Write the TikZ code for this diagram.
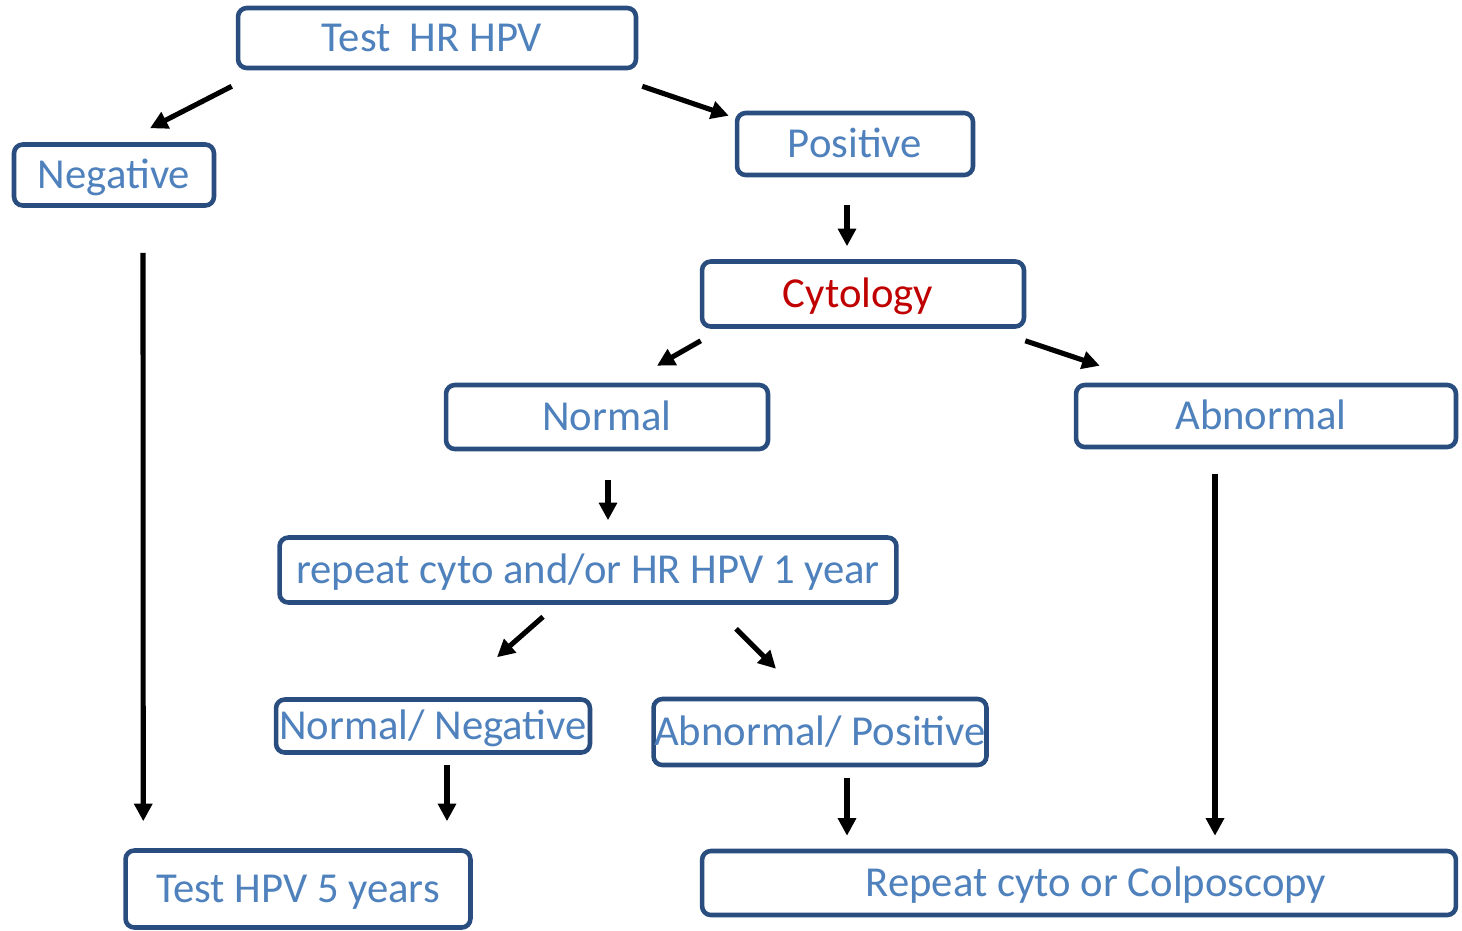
\documentclass[tikz,border=0pt]{standalone}
\usepackage{fontspec}
\setmainfont{Carlito}
\usepackage{xcolor}
\usetikzlibrary{arrows.meta}
\definecolor{boxblue}{HTML}{2A4D7F}
\definecolor{txtblue}{HTML}{4F81BD}
\definecolor{cytred}{HTML}{C00000}

\begin{document}
\begin{tikzpicture}[x=0.02cm,y=-0.02cm,
  box/.style={draw=boxblue,line width=2.6pt,rounded corners=5pt,fill=white,
    text=txtblue,font=\fontsize{24.3}{28}\selectfont,inner sep=0pt,
    text height=15.6pt,text depth=0pt},
  arr/.style={-{Triangle[length=10pt,width=10pt]},line width=2.9pt,black}]
  \useasboundingbox (0,0) rectangle (1462,930);

  % boxes
  \node[box,minimum width=7.96cm,minimum height=1.2cm] (hr) at (437,38) {\hspace*{-0.2cm}Test\ \ HR HPV};
  \node[box,minimum width=4.0cm,minimum height=1.22cm] (neg) at (114,175) {Negative};
  \node[box,minimum width=4.72cm,minimum height=1.24cm] (pos) at (855,144) {Positive};
  \node[box,minimum width=6.44cm,minimum height=1.3cm,text=cytred] (cyt) at (863,294) {\hspace*{-0.2cm}Cytology};
  \node[box,minimum width=6.44cm,minimum height=1.28cm] (nor) at (607,417) {Normal};
  \node[box,minimum width=7.6cm,minimum height=1.24cm] (abn) at (1266,416) {\hspace*{-0.2cm}Abnormal};
  \node[box,minimum width=12.34cm,minimum height=1.3cm] (rep) at (588,570) {repeat cyto and/or HR HPV 1 year};
  \node[box,minimum width=6.28cm,minimum height=1.06cm] (nn) at (433,726) {Normal/ Negative};
  \node[box,minimum width=6.66cm,minimum height=1.32cm] (ap) at (820,732) {Abnormal/ Positive};
  \node[box,minimum width=6.9cm,minimum height=1.54cm] (five) at (298,889) {Test HPV 5 years};
  \node[box,minimum width=15.08cm,minimum height=1.28cm] (col) at (1079,883) {\hspace*{0.68cm}Repeat cyto or Colposcopy};

  % arrows
  \draw[arr] ([shift={(-4,16)}]hr.south west) -- ([shift={(36,-14)}]neg.north);
  \draw[arr] ([shift={(4,16)}]hr.south east) -- ([shift={(-6,5)}]pos.north west);
  \draw[arr] ([shift={(-8,28)}]pos.south) -- ([shift={(-16,-13)}]cyt.north);
  \draw[arr] ([shift={(1,12)}]cyt.south west) -- ([shift={(50,-17)}]nor.north);
  \draw[arr] ([shift={(-1,12)}]cyt.south east) -- ([shift={(26,-17)}]abn.north west);
  \draw[arr] ([shift={(1,29)}]nor.south) -- ([shift={(20,-15)}]rep.north);
  \draw[arr] ([shift={(-45,12)}]rep.south) -- ([shift={(64,-40)}]nn.north);
  \draw[arr] ([shift={(148,24)}]rep.south) -- ([shift={(-44,-28)}]ap.north);
  \draw[arr] ([shift={(14,10)}]nn.south) -- ([shift={(149,-27)}]five.north);
  \draw[arr] ([shift={(27,11)}]ap.south) -- ([shift={(-232,-13)}]col.north);
  \draw[arr] ([shift={(29,45)}]neg.south) -- ([shift={(20,-27)}]five.north west);
  \draw[arr] ([shift={(-51,25)}]abn.south) -- ([shift={(136,-13)}]col.north);
\end{tikzpicture}
\end{document}
